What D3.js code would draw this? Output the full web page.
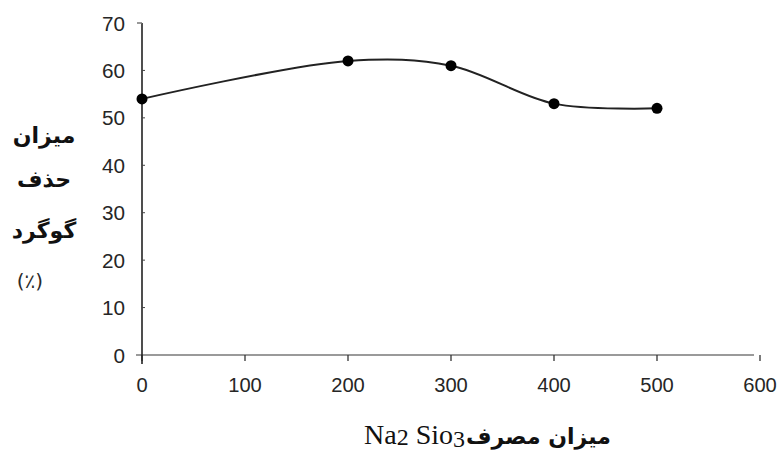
<!DOCTYPE html>
<html><head><meta charset="utf-8">
<script src="https://cdn.jsdelivr.net/npm/d3@7"></script>
<style>body{margin:0;background:#fff}svg{display:block}</style>
</head><body>
<svg id="c" width="781" height="457"></svg>
<script>
const xValues = [0, 200, 300, 400, 500];
const yValues = [54, 62, 61, 53, 52];
const xTicks = [0, 100, 200, 300, 400, 500, 600];
const yTicks = [0, 10, 20, 30, 40, 50, 60, 70];
const yTitleLines = ["میزان", "حذف", "گوگرد"];
const yUnit = "(٪)";
const xTitleFa = "میزان مصرف";

const svg = d3.select("#c");
const x = d3.scaleLinear().domain([0, 600]).range([142, 760]);
const y = d3.scaleLinear().domain([0, 70]).range([355, 23]);
const labFont = "'Liberation Sans', Arial, sans-serif";
const faFont = "'DejaVu Sans', sans-serif";

// x axis line (gray)
svg.append("line").attr("x1", 136).attr("x2", 754).attr("y1", y(0)).attr("y2", y(0))
  .attr("stroke", "#9a9a9a").attr("stroke-width", 2.2);
// x ticks
svg.selectAll(".xt").data(xTicks).enter().append("line")
  .attr("x1", d => x(d)).attr("x2", d => x(d)).attr("y1", y(0)).attr("y2", y(0) + 6)
  .attr("stroke", "#333").attr("stroke-width", 1.3);
// y axis line
svg.append("line").attr("x1", x(0)).attr("x2", x(0)).attr("y1", y(70)).attr("y2", y(0) + 9)
  .attr("stroke", "#222").attr("stroke-width", 1.6);
svg.append("line").attr("x1", x(0) - 5).attr("x2", x(0)).attr("y1", y(70)).attr("y2", y(70))
  .attr("stroke", "#777").attr("stroke-width", 1.5);
svg.selectAll(".yt").data(yTicks.filter(d => d > 0 && d < 70)).enter().append("line")
  .attr("x1", x(0)).attr("x2", x(0) + 3).attr("y1", d => y(d)).attr("y2", d => y(d))
  .attr("stroke", "#444").attr("stroke-width", 1);

// tick labels
svg.selectAll(".yl").data(yTicks).enter().append("text")
  .attr("x", 125).attr("y", d => y(d) + 7.5).attr("text-anchor", "end")
  .attr("font-family", labFont).attr("font-size", 20).attr("fill", "#262626")
  .attr("textLength", d => String(d).length * 11.5).attr("lengthAdjust", "spacingAndGlyphs")
  .text(d => d);
svg.selectAll(".xl").data(xTicks).enter().append("text")
  .attr("x", d => x(d)).attr("y", 392).attr("text-anchor", "middle")
  .attr("font-family", labFont).attr("font-size", 20).attr("fill", "#262626")
  .attr("textLength", d => String(d).length * 11.2).attr("lengthAdjust", "spacingAndGlyphs")
  .text(d => d);

// curve
const pts = xValues.map((v, i) => [v, yValues[i]]);
const line = d3.line().x(d => x(d[0])).y(d => y(d[1])).curve(d3.curveCatmullRom.alpha(0.5));
svg.append("path").attr("d", line(pts)).attr("fill", "none")
  .attr("stroke", "#222").attr("stroke-width", 2);
svg.selectAll(".pt").data(pts).enter().append("circle")
  .attr("cx", d => x(d[0])).attr("cy", d => y(d[1])).attr("r", 5.5).attr("fill", "#000");

// y title
const yBase = [143, 187, 238];
svg.selectAll(".ytl").data(yTitleLines).enter().append("text")
  .attr("x", 44).attr("y", (d, i) => yBase[i]).attr("text-anchor", "middle")
  .attr("font-family", faFont).attr("font-weight", "bold").attr("font-size", 22).attr("fill", "#111")
  .text(d => d);
svg.append("text").attr("x", 30).attr("y", 288).attr("text-anchor", "middle")
  .attr("font-family", faFont).attr("font-size", 20).attr("fill", "#2a2a2a").text(yUnit);

// x title
svg.append("text").attr("x", 466).attr("y", 444)
  .attr("font-family", faFont).attr("font-weight", "bold").attr("font-size", 22).attr("fill", "#111")
  .attr("direction", "rtl").attr("text-anchor", "end")
  .text(xTitleFa);
const xt = svg.append("text").attr("x", 465).attr("y", 444).attr("text-anchor", "end")
  .attr("font-family", "'Liberation Serif', 'Times New Roman', serif").attr("font-size", 28).attr("fill", "#111");
xt.append("tspan").text("Na");
xt.append("tspan").attr("font-size", 24).attr("dy", 1).text("2");
xt.append("tspan").attr("dy", -1).text(" Sio");
xt.append("tspan").attr("font-size", 24).attr("dy", 3).text("3");
</script>
</body></html>
